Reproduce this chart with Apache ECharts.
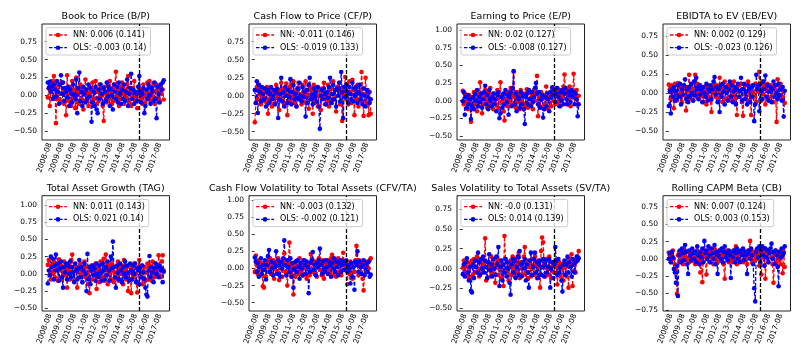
<!DOCTYPE html>
<html><head><meta charset="utf-8">
<script src="https://cdn.jsdelivr.net/npm/echarts@6/dist/echarts.min.js"></script>
<style>html,body{margin:0;padding:0;background:#fff}#c{width:806px;height:358px}</style>
</head><body><div id="c"></div>
<script>
// ---- categories ----
const startYear = 2008, startMonth = 6, nMonths = 115;
const months = [];
for (let k = 0; k < nMonths; k++) { const m = startMonth - 1 + k; months.push((startYear + Math.floor(m / 12)) + '-' + String(m % 12 + 1).padStart(2, '0')); }
const xTickLabels = ['2008-08','2009-08','2010-08','2011-08','2012-08','2013-08','2014-08','2015-08','2016-08','2017-08'];
const splitMonth = '2015-12';

const titles = ['Book to Price (B/P)','Cash Flow to Price (CF/P)','Earning to Price (E/P)','EBIDTA to EV (EB/EV)',
  'Total Asset Growth (TAG)','Cash Flow Volatility to Total Assets (CFV/TA)','Sales Volatility to Total Assets (SV/TA)','Rolling CAPM Beta (CB)'];
const nnLabels = ['NN: 0.006 (0.141)','NN: -0.011 (0.146)','NN: 0.02 (0.127)','NN: 0.002 (0.129)',
  'NN: 0.011 (0.143)','NN: -0.003 (0.132)','NN: -0.0 (0.131)','NN: 0.007 (0.124)'];
const olsLabels = ['OLS: -0.003 (0.14)','OLS: -0.019 (0.133)','OLS: -0.008 (0.127)','OLS: -0.023 (0.126)',
  'OLS: 0.021 (0.14)','OLS: -0.002 (0.121)','OLS: 0.014 (0.139)','OLS: 0.003 (0.153)'];
const yTickSets = [
  [-0.5,-0.25,0,0.25,0.5,0.75],[-0.5,-0.25,0,0.25,0.5,0.75],[-0.5,-0.25,0,0.25,0.5,0.75,1.0],[-0.5,-0.25,0,0.25,0.5,0.75],
  [-0.5,-0.25,0,0.25,0.5,0.75,1.0],[-0.5,-0.25,0,0.25,0.5,0.75,1.0],[-0.5,-0.25,0,0.25,0.5,0.75],[-0.75,-0.5,-0.25,0,0.25,0.5,0.75]];
const yMins = [-0.626,-0.615,-0.557,-0.618,-0.539,-0.621,-0.534,-0.76];
const yMaxs = [0.998,0.996,1.085,0.908,1.135,1.063,0.917,0.918];

// ---- series values ----
const nn_bp = [
-0.03,0.10,-0.15,0.05,0.20,-0.05,0.27,0.12,-0.39,0.08,
-0.05,0.15,0.02,-0.10,0.18,0.05,-0.12,0.10,-0.28,0.28,
0.03,-0.08,0.12,-0.15,0.20,-0.02,0.08,-0.18,0.25,-0.10,
0.05,-0.12,0.15,-0.05,0.10,-0.20,0.06,0.22,-0.08,0.02,
-0.15,0.12,0.04,-0.10,0.18,-0.05,0.08,0.20,-0.12,0.05,
-0.08,0.15,-0.02,0.10,-0.15,-0.36,0.12,0.02,-0.10,0.18,
-0.05,0.20,0.05,-0.12,0.10,-0.08,0.15,0.33,-0.02,0.08,
-0.15,0.12,-0.05,0.18,0.02,-0.12,0.08,-0.03,0.15,0.27,
-0.10,0.05,-0.15,0.10,-0.02,0.20,-0.08,0.03,-0.18,0.12,
0.02,-0.06,0.08,-0.12,0.15,0.00,-0.10,0.05,0.18,-0.05,
0.20,-0.08,0.12,-0.02,0.17,-0.12,0.06,0.15,-0.05,0.10,
-0.08,0.12,0.02,0.08,-0.06];
const ols_bp = [
0.18,0.10,0.19,0.05,0.12,-0.05,0.15,0.08,-0.02,0.20,
0.05,-0.12,0.15,0.28,0.02,0.18,-0.08,0.10,0.05,-0.03,
0.12,-0.15,0.08,0.02,-0.10,0.15,0.00,-0.05,0.22,-0.25,
0.10,0.32,-0.08,0.05,-0.15,0.12,0.02,-0.10,0.08,-0.05,
0.15,-0.02,0.10,-0.37,-0.10,0.05,-0.15,0.12,-0.20,-0.25,
0.08,-0.05,0.15,0.02,-0.12,0.10,0.05,-0.08,0.18,-0.02,
0.12,-0.15,0.08,0.00,-0.20,0.15,0.05,-0.05,0.12,-0.10,
0.18,0.02,-0.12,0.08,-0.05,0.15,-0.08,0.05,0.22,-0.15,
0.02,0.10,0.30,-0.05,0.08,-0.12,0.05,0.02,-0.08,0.12,
0.27,0.05,-0.10,0.02,0.10,-0.25,-0.15,0.08,-0.05,0.15,
0.00,-0.12,0.10,0.05,-0.08,0.18,-0.05,-0.32,0.12,0.02,
-0.10,0.15,0.08,0.18,0.21];
const nn_cfp = [
-0.37,-0.10,0.12,-0.05,0.15,0.02,-0.12,0.08,-0.02,0.10,
-0.08,0.05,0.12,-0.25,-0.05,0.10,0.00,-0.15,0.08,0.02,
-0.10,0.15,-0.03,0.05,-0.20,0.08,0.18,-0.05,0.10,-0.12,
0.05,0.17,-0.27,0.00,0.12,-0.08,0.15,-0.02,0.20,-0.10,
0.05,-0.15,0.10,0.18,-0.05,0.02,-0.12,0.15,-0.08,0.05,
0.20,-0.10,0.02,-0.18,0.12,-0.05,0.08,-0.25,0.15,-0.10,
0.05,0.12,-0.15,0.00,0.08,-0.20,0.10,-0.02,0.18,-0.12,
0.02,-0.08,0.15,-0.15,0.05,0.10,-0.10,0.20,-0.05,0.08,
-0.22,0.12,0.00,0.18,-0.12,0.05,-0.35,0.10,0.02,0.26,
-0.05,0.15,-0.12,0.20,0.05,-0.10,0.22,0.08,-0.27,0.12,
-0.05,0.15,-0.15,0.05,-0.08,0.33,0.10,-0.28,0.02,0.25,
-0.10,0.08,-0.27,0.05,-0.25];
const ols_cfp = [
0.08,-0.10,0.20,-0.24,0.15,0.05,-0.08,0.12,0.02,-0.05,
0.10,-0.15,0.05,0.08,-0.10,0.02,0.12,-0.05,0.00,0.08,
-0.12,0.05,0.10,-0.31,-0.05,0.02,0.25,-0.08,0.05,-0.15,
0.12,0.00,-0.10,0.08,-0.02,0.23,-0.12,0.05,0.15,-0.05,
0.02,-0.15,0.10,-0.05,0.18,0.00,-0.08,0.12,-0.02,0.05,
-0.29,0.08,-0.10,0.15,0.25,-0.05,0.02,-0.12,0.10,-0.03,
0.05,-0.08,0.12,-0.15,-0.46,0.00,0.08,-0.05,0.10,0.02,
-0.12,0.05,-0.03,0.12,0.25,-0.10,0.02,0.15,-0.05,0.08,
-0.15,0.10,0.00,0.18,-0.08,0.33,0.05,-0.31,0.12,-0.02,
0.15,0.05,-0.10,0.12,0.02,-0.05,0.18,-0.08,0.10,0.00,
0.12,-0.10,0.05,0.15,-0.05,0.02,-0.12,0.10,0.00,-0.15,
0.08,-0.02,0.05,-0.10,-0.05];
const nn_ep = [
0.14,-0.05,0.10,-0.02,0.05,-0.12,0.08,0.00,-0.30,0.05,
-0.10,0.12,-0.05,0.02,-0.15,0.10,-0.08,0.26,0.05,-0.18,
0.08,-0.05,0.15,0.00,-0.10,0.12,-0.03,0.18,-0.08,0.05,
-0.12,0.10,0.02,-0.05,0.15,-0.10,0.05,0.26,-0.02,0.08,
-0.15,-0.28,0.10,0.02,-0.08,0.12,0.00,0.18,-0.05,0.10,
0.41,0.05,-0.10,0.12,-0.02,0.08,-0.12,0.15,0.00,-0.05,
0.10,-0.08,0.05,0.16,-0.10,0.02,0.12,-0.05,0.08,-0.12,
0.15,0.00,0.10,0.35,-0.22,0.05,-0.08,0.12,0.02,-0.10,
0.08,-0.05,0.20,0.02,-0.12,0.10,0.05,-0.08,0.15,0.00,
0.12,-0.05,0.18,0.08,-0.02,0.15,-0.08,0.10,0.05,0.20,
0.37,0.10,-0.05,0.15,0.02,0.20,-0.08,0.12,0.05,0.38,
0.10,0.02,0.15,-0.05,0.07];
const ols_ep = [
-0.01,0.12,-0.20,0.05,-0.10,0.08,-0.05,0.02,-0.26,-0.08,
0.05,-0.12,0.10,0.00,0.15,-0.08,0.05,-0.02,0.10,-0.10,
0.02,0.12,0.21,-0.05,0.08,-0.12,0.15,0.00,-0.08,0.05,
0.10,-0.05,0.02,-0.15,0.08,0.12,-0.25,-0.18,0.05,-0.10,
0.10,-0.05,0.15,-0.02,0.08,-0.20,0.05,0.12,-0.08,0.18,
0.42,-0.05,0.10,-0.15,0.05,0.02,-0.10,0.12,-0.05,0.08,
-0.12,-0.33,0.05,0.10,-0.05,0.15,0.02,-0.08,0.12,-0.02,
0.05,0.18,0.25,0.10,-0.05,0.12,-0.10,0.02,0.08,-0.24,
-0.12,0.05,-0.08,0.10,0.02,-0.15,0.12,0.05,0.19,0.08,
0.15,-0.02,0.10,0.18,0.05,-0.08,0.12,0.00,0.15,-0.05,
0.10,0.18,0.02,-0.05,0.12,0.08,-0.02,0.15,0.05,0.12,
-0.05,0.10,0.02,-0.22,-0.05];
const nn_ebev = [
0.11,0.05,-0.08,0.10,-0.05,-0.20,0.12,0.02,-0.10,0.13,
-0.05,0.08,0.00,-0.12,0.10,-0.03,0.05,-0.23,0.08,0.02,
0.24,-0.08,0.10,0.05,-0.10,0.15,0.24,-0.05,0.12,0.00,
-0.08,0.10,-0.03,0.05,-0.12,0.08,0.02,-0.15,0.10,-0.05,
0.05,-0.10,-0.25,0.08,0.00,0.12,-0.05,0.10,-0.08,0.03,
0.20,-0.05,0.08,-0.12,0.05,0.15,-0.08,0.02,0.10,-0.05,
0.12,-0.10,0.05,0.00,0.15,-0.08,0.08,-0.29,0.02,0.10,
-0.05,0.12,-0.12,-0.30,0.05,0.10,-0.08,0.02,0.15,-0.10,
0.05,-0.29,0.10,0.00,-0.05,0.12,-0.12,0.08,0.02,0.28,
0.05,-0.10,0.15,-0.02,0.10,-0.15,0.05,0.12,-0.08,0.02,
0.10,-0.05,0.08,-0.12,0.05,0.00,-0.38,0.18,0.10,-0.05,
0.12,0.08,-0.05,0.02,-0.13];
const ols_ebev = [
-0.17,0.02,-0.27,0.05,-0.05,0.08,-0.10,0.03,-0.08,0.10,
-0.05,0.12,-0.15,0.05,-0.02,0.10,0.18,-0.08,0.05,-0.12,
0.08,-0.05,0.12,0.00,-0.10,0.15,-0.03,0.20,0.05,-0.08,
0.10,-0.02,0.05,-0.12,0.08,0.00,-0.05,0.12,-0.10,0.05,
0.02,0.10,-0.08,0.05,0.15,0.21,-0.02,0.08,-0.12,0.05,
-0.25,0.10,-0.05,0.12,0.02,-0.15,0.08,0.00,-0.10,0.05,
0.15,-0.05,0.10,-0.12,0.02,0.08,-0.15,0.05,0.12,-0.05,
0.02,0.20,-0.10,0.05,0.12,-0.08,0.02,-0.15,0.10,0.05,
-0.12,0.08,-0.05,0.10,-0.37,-0.15,0.24,0.05,0.10,-0.24,
0.12,0.02,-0.08,0.15,0.05,0.23,-0.05,0.10,-0.10,0.02,
0.08,-0.12,0.05,0.15,-0.05,0.10,0.00,-0.08,0.12,-0.03,
0.05,-0.10,0.08,-0.31,0.03];
const nn_tag = [
0.13,0.20,0.05,-0.08,0.12,0.00,0.18,-0.05,0.10,0.15,
-0.10,0.21,0.05,0.12,-0.08,0.08,0.18,-0.02,0.10,-0.20,
0.05,0.15,-0.08,0.20,0.28,0.02,-0.10,0.12,0.05,-0.20,
0.10,-0.05,0.15,0.02,-0.12,0.08,0.18,-0.05,0.10,0.00,
-0.15,-0.28,0.05,0.12,-0.08,0.10,-0.02,0.15,-0.22,0.05,
0.10,-0.12,0.18,0.02,-0.05,0.22,-0.10,0.28,0.05,-0.15,
0.12,0.00,-0.08,0.15,0.05,-0.12,0.10,0.02,-0.05,0.18,
-0.10,0.08,0.00,0.12,-0.15,0.20,0.05,-0.08,0.10,-0.25,
0.02,0.12,-0.28,0.08,-0.05,0.15,0.00,-0.12,-0.27,0.10,
0.20,-0.05,0.12,-0.15,0.05,0.10,-0.10,0.02,0.15,-0.08,
0.12,0.05,-0.10,0.18,0.02,-0.05,0.15,0.08,-0.02,0.27,
0.10,-0.05,0.18,0.27,0.05];
const ols_tag = [
-0.14,0.05,-0.02,0.25,0.10,0.22,-0.08,0.12,0.28,0.05,
0.15,-0.10,0.08,0.18,-0.05,-0.20,0.10,0.02,0.15,-0.08,
0.12,0.00,0.18,-0.05,0.10,0.02,-0.12,0.15,0.05,-0.08,
0.08,0.20,-0.05,0.10,-0.12,0.05,0.15,0.00,-0.25,0.29,
-0.08,0.10,-0.15,0.05,0.12,-0.02,0.08,-0.10,0.15,0.00,
-0.05,0.12,0.02,-0.10,0.15,0.05,-0.08,0.10,-0.02,0.18,
0.05,-0.10,0.25,0.08,0.47,0.10,-0.05,-0.20,0.12,0.02,
-0.08,0.15,0.05,-0.12,0.10,0.00,0.18,-0.05,0.12,0.02,
-0.10,0.15,0.05,-0.08,0.12,0.00,0.15,-0.12,0.08,0.05,
-0.15,0.10,-0.05,0.12,0.02,-0.08,-0.20,-0.30,-0.33,0.05,
0.26,-0.05,0.10,0.02,-0.12,0.08,0.15,0.00,0.10,-0.05,
0.12,0.05,0.08,-0.12,0.03];
const nn_cfv = [
-0.05,0.19,0.05,-0.08,0.12,0.00,-0.10,0.08,-0.26,-0.28,
0.05,-0.12,0.10,0.02,-0.05,0.15,-0.08,0.05,0.12,-0.15,
0.02,0.10,-0.05,0.15,-0.17,0.08,0.00,-0.12,0.10,0.22,
-0.05,0.12,-0.25,0.05,0.38,0.08,-0.10,0.02,-0.38,0.05,
-0.12,0.10,0.02,-0.08,0.15,-0.05,0.08,0.00,-0.10,0.12,
0.02,-0.15,0.08,0.05,-0.10,0.21,-0.05,0.12,0.00,-0.08,
0.10,-0.12,0.05,0.15,-0.02,0.08,-0.10,0.12,-0.15,0.02,
0.08,-0.05,0.12,0.00,-0.08,0.15,0.20,-0.10,0.05,0.10,
-0.12,0.05,0.15,-0.05,0.08,-0.10,0.12,0.23,-0.02,0.05,
0.10,-0.23,0.02,-0.08,0.10,0.05,-0.15,0.08,-0.05,0.12,
0.33,0.05,-0.10,0.12,-0.05,0.08,-0.15,-0.32,0.02,0.10,
-0.05,0.08,0.00,0.12,0.15];
const ols_cfv = [
0.16,0.10,-0.05,0.08,-0.12,0.02,0.15,-0.08,0.05,-0.02,
0.12,-0.16,0.05,0.18,0.27,-0.05,0.10,0.00,-0.10,0.08,
0.02,0.25,-0.08,0.12,0.05,-0.12,0.10,0.00,0.15,0.41,
0.05,-0.10,0.12,0.02,-0.05,0.15,-0.12,0.08,-0.28,0.00,
0.10,-0.05,0.12,0.02,-0.15,0.08,0.00,-0.10,0.12,0.05,
-0.08,0.10,0.02,-0.36,-0.05,0.08,0.12,0.24,-0.02,0.05,
-0.10,0.08,0.02,0.12,0.29,0.05,-0.08,0.10,0.00,-0.05,
0.12,0.02,-0.08,0.10,0.05,-0.12,0.08,0.00,0.15,-0.05,
0.10,0.02,-0.10,0.08,0.12,-0.05,0.05,0.10,-0.02,0.08,
0.12,-0.05,0.05,0.00,-0.22,0.08,-0.12,0.02,-0.31,0.10,
0.05,0.25,-0.05,0.10,0.02,-0.08,0.05,0.12,-0.10,0.00,
0.08,-0.05,0.10,-0.12,-0.09];
const nn_sv = [
0.01,0.10,-0.05,0.03,-0.10,0.08,0.00,-0.12,0.05,0.10,
-0.08,0.12,0.02,-0.05,0.15,0.00,-0.10,0.08,0.12,-0.05,
0.10,0.05,0.38,-0.15,-0.12,0.08,0.02,-0.10,0.15,-0.05,
0.10,0.02,-0.18,0.05,0.12,-0.08,0.00,0.10,-0.12,0.05,
-0.22,0.41,0.12,-0.05,0.08,-0.15,0.02,0.10,-0.08,0.15,
0.00,-0.10,0.12,0.05,-0.05,0.20,-0.12,0.08,0.02,-0.08,
0.15,0.27,-0.05,0.10,-0.12,0.02,0.08,-0.10,0.12,0.00,
-0.08,0.15,0.05,-0.12,0.10,0.02,-0.24,0.22,0.39,0.33,
0.05,-0.10,0.12,0.00,-0.08,0.15,0.02,-0.12,0.08,0.05,
-0.05,0.10,0.02,-0.20,0.05,0.08,-0.10,0.05,0.00,-0.15,
0.08,0.02,-0.10,0.10,-0.24,0.05,0.12,0.18,-0.22,0.05,
0.10,-0.05,0.12,0.15,0.22];
const ols_sv = [
-0.07,0.05,-0.10,0.08,0.13,-0.05,-0.15,0.02,-0.28,-0.30,
0.05,-0.12,0.10,0.02,-0.05,0.20,0.08,-0.08,0.12,0.00,
0.15,-0.05,0.10,0.02,-0.12,0.08,0.18,-0.02,0.05,-0.10,
0.12,0.00,-0.08,0.15,0.05,0.27,-0.22,0.02,0.10,-0.15,
0.05,-0.05,0.12,-0.10,0.08,0.00,-0.18,-0.33,0.05,0.12,
-0.05,0.10,-0.12,0.02,0.15,-0.08,0.22,0.05,-0.10,0.08,
0.00,0.12,-0.15,0.05,-0.05,-0.24,0.10,0.20,-0.08,0.02,
0.12,0.20,-0.05,0.08,-0.12,0.05,0.10,-0.08,0.02,0.12,
-0.10,0.05,0.10,-0.05,0.02,0.12,-0.24,0.00,0.08,-0.12,
0.05,0.27,0.10,-0.08,0.12,-0.05,0.02,-0.15,-0.29,0.05,
0.10,-0.08,0.05,0.15,-0.05,0.08,0.02,-0.10,0.12,0.05,
-0.05,0.08,0.15,0.10,0.13];
const nn_cb = [
0.09,0.05,-0.05,0.08,0.12,0.00,-0.08,-0.15,-0.51,0.05,
0.10,-0.05,0.08,0.02,-0.08,0.12,0.05,-0.02,0.10,0.00,
-0.05,0.08,0.12,-0.03,0.05,0.10,-0.08,0.02,0.12,0.05,
-0.02,-0.20,0.08,-0.34,0.05,0.12,0.02,-0.23,0.10,0.05,
-0.05,0.12,0.02,0.08,-0.08,0.15,0.00,0.10,-0.05,0.08,
0.12,-0.02,0.05,0.10,-0.08,-0.29,0.05,0.12,0.02,-0.05,
0.10,0.00,0.08,-0.05,0.12,0.02,0.18,-0.08,0.05,0.10,
-0.02,0.08,0.12,-0.05,0.05,0.10,0.00,-0.08,0.12,0.05,
0.26,0.02,-0.05,0.10,0.05,-0.02,0.12,0.00,0.08,-0.10,
0.05,-0.23,0.10,0.02,0.15,-0.29,0.05,0.12,-0.05,0.08,
0.10,0.02,-0.08,-0.35,0.05,0.12,-0.05,0.08,0.00,0.10,
-0.08,0.05,-0.21,0.10,-0.12];
const ols_cb = [
0.00,0.08,-0.05,0.10,0.02,-0.15,-0.20,-0.35,-0.10,-0.54,
0.05,0.12,-0.05,0.15,0.08,-0.02,0.20,0.10,-0.08,-0.22,
0.12,0.05,-0.02,0.15,0.08,0.00,0.10,-0.05,0.18,0.05,
-0.08,0.10,0.02,0.15,-0.05,0.26,0.08,0.12,0.00,0.18,
0.05,-0.05,0.15,0.08,0.00,0.20,-0.08,0.10,-0.22,0.05,
0.12,0.00,0.15,-0.05,0.10,0.18,0.02,0.08,-0.02,0.12,
0.05,-0.28,0.10,0.02,0.12,-0.05,0.08,0.15,0.00,0.10,
-0.05,0.12,0.05,0.15,-0.02,0.10,0.05,-0.22,0.08,0.12,
0.00,0.15,0.05,-0.08,-0.43,-0.62,0.10,0.15,0.02,0.18,
-0.05,0.12,0.18,0.05,-0.10,0.15,0.02,0.12,-0.05,0.08,
0.15,0.22,0.00,0.10,-0.08,0.12,0.05,-0.12,-0.40,0.10,
0.02,0.15,0.05,0.08,0.18];

const nnSeries = [nn_bp, nn_cfp, nn_ep, nn_ebev, nn_tag, nn_cfv, nn_sv, nn_cb];
const olsSeries = [ols_bp, ols_cfp, ols_ep, ols_ebev, ols_tag, ols_cfv, ols_sv, ols_cb];

// ---- layout (not data) ----
const colLefts = [42, 249, 457, 663];
const colWidth = 127.5;
const rowTops = [24, 195.7];
const rowHeights = [116, 115.3];
const titleYs = [16.5, 188.3];

const FONT = 'DejaVu Sans';
const LEG_FS = 8;
const RED = '#ff0000', BLUE = '#0000ff';
const xTickIdx = xTickLabels.map(s => months.indexOf(s));
const splitIdx = months.indexOf(splitMonth);
const fmtY = v => (Math.abs(v) < 1e-9 ? 0 : v).toFixed(2).replace('-', '\u2212');
const mctx = document.createElement('canvas').getContext('2d');
mctx.font = LEG_FS + 'px "' + FONT + '"';

const grids = [], xAxes = [], yAxes = [], series = [], graphics = [];
for (let k = 0; k < 8; k++) {
  const r = Math.floor(k / 4), c = k % 4;
  const l = colLefts[c], t = rowTops[r], w = colWidth, h = rowHeights[r];
  grids.push({ left: l, top: t, width: w, height: h, show: true, borderColor: '#222', borderWidth: 1, backgroundColor: 'transparent' });
  xAxes.push({
    type: 'value', gridIndex: k, min: -5.7, max: nMonths - 1 + 5.7,
    axisLine: { show: false }, splitLine: { show: false },
    axisTick: { show: true, length: 3, lineStyle: { color: '#000', width: 0.8 }, customValues: xTickIdx },
    axisLabel: { customValues: xTickIdx, formatter: v => months[Math.round(v)], rotate: 70, fontSize: 7.5, color: '#000', margin: 3, fontFamily: FONT }
  });
  yAxes.push({
    type: 'value', gridIndex: k, min: yMins[k], max: yMaxs[k],
    axisLine: { show: false }, splitLine: { show: false },
    axisTick: { show: true, length: 3, lineStyle: { color: '#000', width: 0.8 }, customValues: yTickSets[k] },
    axisLabel: { customValues: yTickSets[k], formatter: fmtY, fontSize: 7.5, color: '#000', margin: 5, fontFamily: FONT }
  });
  const common = { type: 'line', xAxisIndex: k, yAxisIndex: k, symbol: 'circle', symbolSize: 4.6, showSymbol: true, animation: false, silent: true };
  series.push(Object.assign({}, common, {
    name: nnLabels[k], data: nnSeries[k].map((v, i) => [i, v]),
    itemStyle: { color: RED }, lineStyle: { color: RED, width: 1.3, type: [4, 2] }
  }));
  series.push(Object.assign({}, common, {
    name: olsLabels[k], data: olsSeries[k].map((v, i) => [i, v]),
    itemStyle: { color: BLUE }, lineStyle: { color: BLUE, width: 1.3, type: [4, 2] },
    markLine: { silent: true, symbol: 'none', label: { show: false }, animation: false,
      lineStyle: { color: '#000', type: [4, 2], width: 1.3 }, data: [{ xAxis: splitIdx }] }
  }));
  // legend (frame + entries)
  const labels = [nnLabels[k], olsLabels[k]], colors = [RED, BLUE];
  const tw = Math.max(mctx.measureText(labels[0]).width, mctx.measureText(labels[1]).width);
  const bx = l + 4, by = t + 3.7;
  const boxW = 3 + 18 + 6 + tw + 4;
  graphics.push({
    type: 'rect', z: 10, silent: true,
    shape: { x: bx, y: by, width: boxW, height: 27.3, r: 2 },
    style: { fill: 'rgba(255,255,255,0.8)', stroke: '#cccccc', lineWidth: 1 }
  });
  for (let j = 0; j < 2; j++) {
    const cy = t + 11 + j * 12.7;
    graphics.push({ type: 'line', z: 11, silent: true,
      shape: { x1: bx + 3, y1: cy, x2: bx + 21, y2: cy },
      style: { stroke: colors[j], lineWidth: 1.3, lineDash: [3.5, 1.6] } });
    graphics.push({ type: 'circle', z: 12, silent: true,
      shape: { cx: bx + 12, cy: cy, r: 2.3 }, style: { fill: colors[j] } });
    graphics.push({ type: 'text', z: 12, silent: true, x: bx + 27, y: cy,
      style: { text: labels[j], fontSize: LEG_FS, fontFamily: FONT, fill: '#000', align: 'left', verticalAlign: 'middle' } });
  }
  graphics.push({
    type: 'text', x: l + w / 2, y: titleYs[r], silent: true,
    style: { text: titles[k], fontSize: 9.5, fontFamily: FONT, fill: '#000', align: 'center', verticalAlign: 'middle' }
  });
}

const chart = echarts.init(document.getElementById('c'), null, { renderer: 'canvas' });
chart.setOption({
  backgroundColor: '#fff', animation: false,
  grid: grids, xAxis: xAxes, yAxis: yAxes, series: series, graphic: graphics
});
</script>
</body></html>
